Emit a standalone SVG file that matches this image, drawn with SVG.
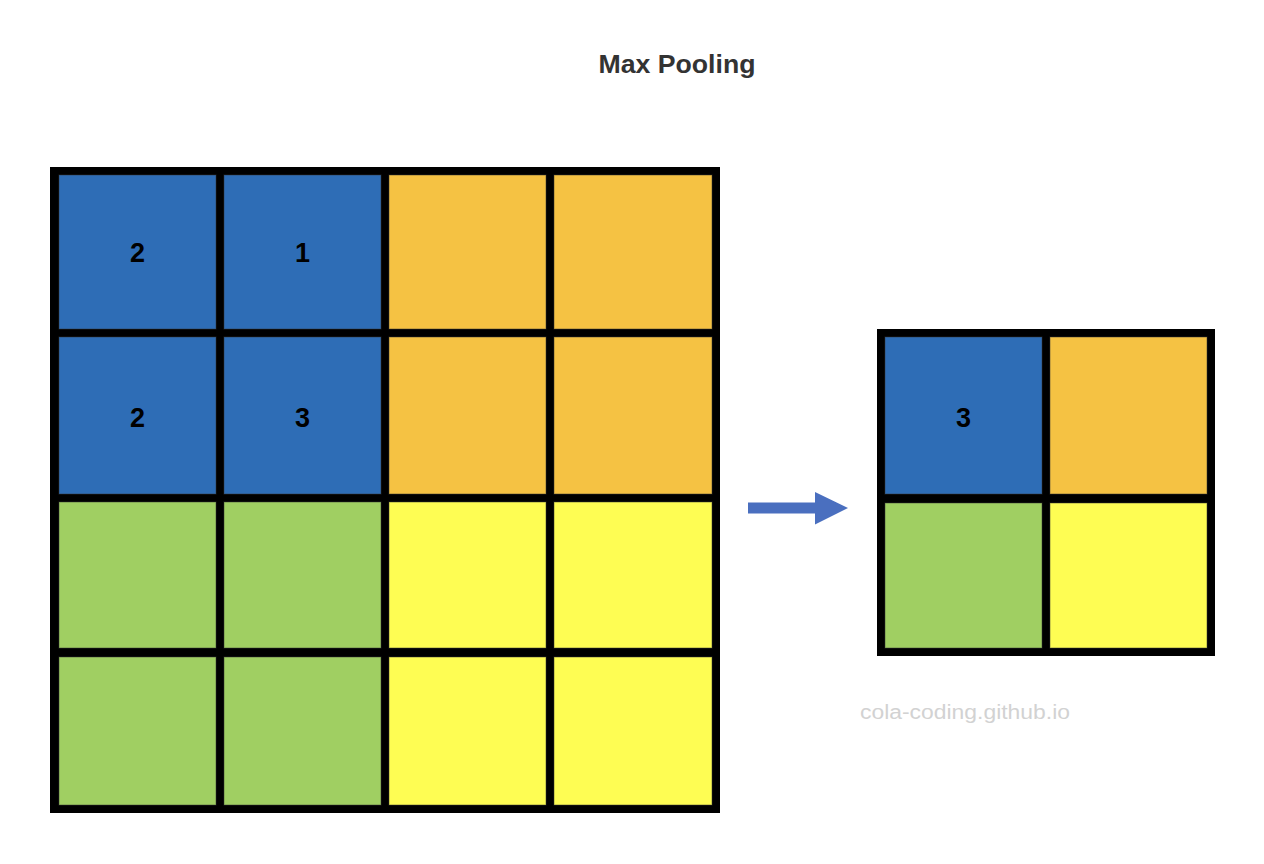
<svg xmlns="http://www.w3.org/2000/svg" width="1264" height="864" viewBox="0 0 1264 864">
  <style>
    .frame { fill: #000000; }
    .cell { stroke: #3a3a3a; stroke-opacity: 0.5; stroke-width: 1; }
    .blue { fill: #2E6DB6; }
    .orange { fill: #F5C243; }
    .green { fill: #A0CF62; }
    .yellow { fill: #FEFD53; }
    .num { font-family: "Liberation Sans", Arial, sans-serif; font-size: 27px; font-weight: bold; fill: #000000; text-anchor: middle; }
    .title { font-family: "Liberation Sans", Arial, sans-serif; font-size: 26px; font-weight: bold; fill: #333333; text-anchor: middle; }
    .mark { font-family: "Liberation Sans", Arial, sans-serif; font-size: 20px; fill: #D2D2D2; }
  </style>

  <rect x="0" y="0" width="1264" height="864" fill="#ffffff"/>

  <g id="title">
    <text class="title" x="677" y="73" textLength="157" lengthAdjust="spacingAndGlyphs">Max Pooling</text>
  </g>

  <g id="input-grid">
    <rect class="frame" x="50" y="167" width="670" height="646"/>
    <rect class="cell blue" x="59" y="175" width="157" height="154"/>
    <rect class="cell blue" x="224" y="175" width="157" height="154"/>
    <rect class="cell orange" x="389" y="175" width="157" height="154"/>
    <rect class="cell orange" x="554" y="175" width="158" height="154"/>
    <rect class="cell blue" x="59" y="337" width="157" height="157"/>
    <rect class="cell blue" x="224" y="337" width="157" height="157"/>
    <rect class="cell orange" x="389" y="337" width="157" height="157"/>
    <rect class="cell orange" x="554" y="337" width="158" height="157"/>
    <rect class="cell green" x="59" y="502" width="157" height="146"/>
    <rect class="cell green" x="224" y="502" width="157" height="146"/>
    <rect class="cell yellow" x="389" y="502" width="157" height="146"/>
    <rect class="cell yellow" x="554" y="502" width="158" height="146"/>
    <rect class="cell green" x="59" y="657" width="157" height="148"/>
    <rect class="cell green" x="224" y="657" width="157" height="148"/>
    <rect class="cell yellow" x="389" y="657" width="157" height="148"/>
    <rect class="cell yellow" x="554" y="657" width="158" height="148"/>
    <text class="num" x="137.5" y="262">2</text>
    <text class="num" x="302.5" y="262">1</text>
    <text class="num" x="137.5" y="427">2</text>
    <text class="num" x="302.5" y="427">3</text>
  </g>

  <g id="connectors">
    <polygon fill="#4A6FBF" points="748,502.5 815,502.5 815,492 848,508 815,524.5 815,513.5 748,513.5"/>
  </g>

  <g id="output-grid">
    <rect class="frame" x="877" y="329" width="338" height="327"/>
    <rect class="cell blue" x="885" y="337" width="157" height="157"/>
    <rect class="cell orange" x="1050" y="337" width="157" height="157"/>
    <rect class="cell green" x="885" y="503" width="157" height="145"/>
    <rect class="cell yellow" x="1050" y="503" width="157" height="145"/>
    <text class="num" x="963.5" y="427">3</text>
  </g>

  <g id="watermark">
    <text class="mark" x="860" y="719" textLength="210" lengthAdjust="spacingAndGlyphs">cola-coding.github.io</text>
  </g>
</svg>
